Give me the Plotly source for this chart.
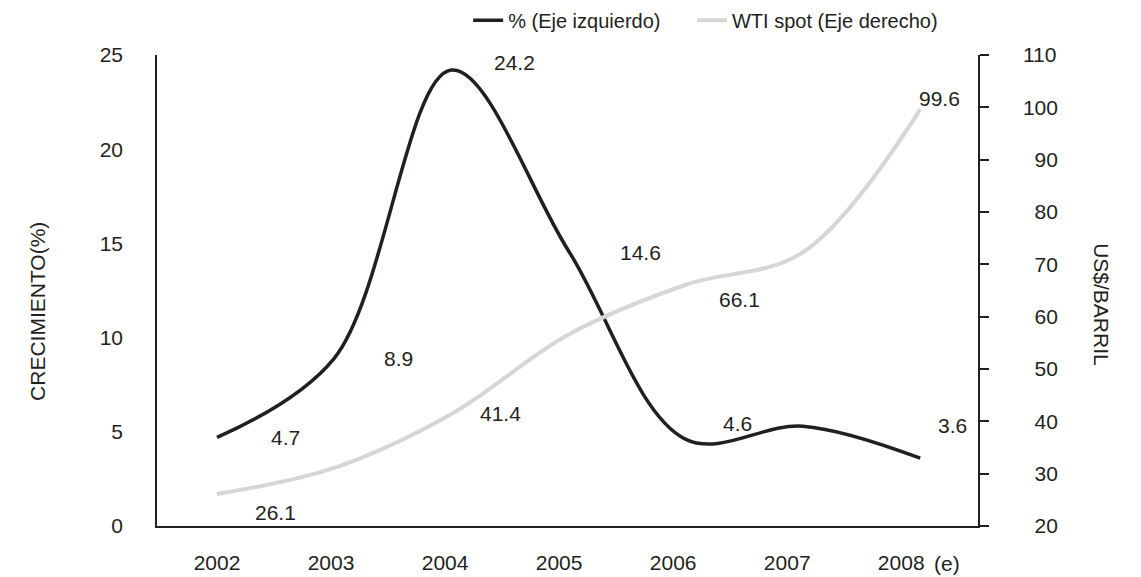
import plotly.graph_objects as go

years = ["2002", "2003", "2004", "2005", "2006", "2007", "2008"]
crecimiento = [4.7, 8.9, 24.2, 14.6, 4.6, 5.3, 3.6]
wti = [26.1, 31.1, 41.4, 56.6, 66.1, 72.3, 99.6]

# which points carry a value label, with the label offsets (px) seen in the reference
crec_labels = {0: (68, 0), 1: (64, 0), 2: (63, 8), 3: (72, -2), 4: (52, 16), 6: (32, 33)}
wti_labels = {0: (58, -18), 2: (49, 1), 4: (54, -15), 6: (19, 11)}

FONT = "Liberation Sans, Arial, sans-serif"
TXT = "#231f20"
FS = 21
x_idx = list(range(len(years)))

fig = go.Figure()
fig.add_trace(go.Scatter(
    x=x_idx, y=crecimiento, name="% (Eje izquierdo)", mode="lines",
    line=dict(color=TXT, width=3.5, shape="spline", smoothing=1.0),
    yaxis="y", legend="legend"))
fig.add_trace(go.Scatter(
    x=x_idx, y=wti, name="WTI spot (Eje derecho)", mode="lines",
    line=dict(color="#d6d6d6", width=4, shape="spline", smoothing=1.0),
    yaxis="y2", legend="legend2"))

annotations = []
for i, (dx, dy) in crec_labels.items():
    annotations.append(dict(x=x_idx[i], y=crecimiento[i], xref="x", yref="y",
                            text=f"{crecimiento[i]:.1f}", showarrow=False,
                            xshift=dx, yshift=dy, font=dict(size=FS, color=TXT, family=FONT)))
for i, (dx, dy) in wti_labels.items():
    annotations.append(dict(x=x_idx[i], y=wti[i], xref="x", yref="y2",
                            text=f"{wti[i]:.1f}", showarrow=False,
                            xshift=dx, yshift=dy, font=dict(size=FS, color=TXT, family=FONT)))
annotations.append(dict(x=0.962, y=-0.0786, xref="paper", yref="paper", text="(e)",
                        xanchor="center", yanchor="middle",
                        showarrow=False, font=dict(size=FS, color=TXT, family=FONT)))
annotations.append(dict(x=-0.145, y=0.4565, xref="paper", yref="paper", text="CRECIMIENTO(%)",
                        xanchor="center", yanchor="middle",
                        textangle=-90, showarrow=False, font=dict(size=FS, color=TXT, family=FONT)))
annotations.append(dict(x=1.151, y=0.469, xref="paper", yref="paper", text="US$/BARRIL",
                        xanchor="center", yanchor="middle",
                        textangle=90, showarrow=False, font=dict(size=FS, color=TXT, family=FONT)))

right_ticks = list(range(20, 111, 10))
right_text = [("\u2007" + str(v)) if v < 100 else str(v) for v in right_ticks]

legend_common = dict(orientation="h", xanchor="left", y=1.074, yanchor="middle",
                     font=dict(size=20, color=TXT, family=FONT), bgcolor="rgba(0,0,0,0)")

fig.update_layout(
    width=1141, height=577,
    margin=dict(l=157, r=163, t=55, b=51, autoexpand=False),
    paper_bgcolor="white", plot_bgcolor="white",
    font=dict(family=FONT, size=FS, color=TXT),
    showlegend=True,
    legend=dict(x=0.379, **legend_common),
    legend2=dict(x=0.6516, **legend_common),
    xaxis=dict(range=[-0.512, 6.493], showgrid=False, zeroline=False, automargin=False,
               showline=True, linecolor=TXT, linewidth=1.5,
               tickmode="array", tickvals=[i * 0.973 for i in x_idx], ticktext=years,
               ticks="", ticklabelstandoff=17, tickfont=dict(size=FS, color=TXT)),
    yaxis=dict(range=[0, 25], tickvals=[0, 5, 10, 15, 20, 25], showgrid=False, zeroline=False,
               showline=True, linecolor=TXT, linewidth=1.5, ticks="", automargin=False,
               ticklabelstandoff=28, tickfont=dict(size=FS, color=TXT)),
    yaxis2=dict(range=[20, 110], overlaying="y", side="right", showgrid=False, zeroline=False,
                showline=True, linecolor=TXT, linewidth=1.5, automargin=False,
                ticks="outside", ticklen=9, tickwidth=1.5, tickcolor=TXT,
                tickmode="array", tickvals=right_ticks, ticktext=right_text,
                ticklabelstandoff=30, tickfont=dict(size=FS, color=TXT)),
    annotations=annotations,
)

fig.write_html("out.html", config={"displayModeBar": False},
               post_script="document.body.style.margin='0';document.body.style.overflow='hidden';")
